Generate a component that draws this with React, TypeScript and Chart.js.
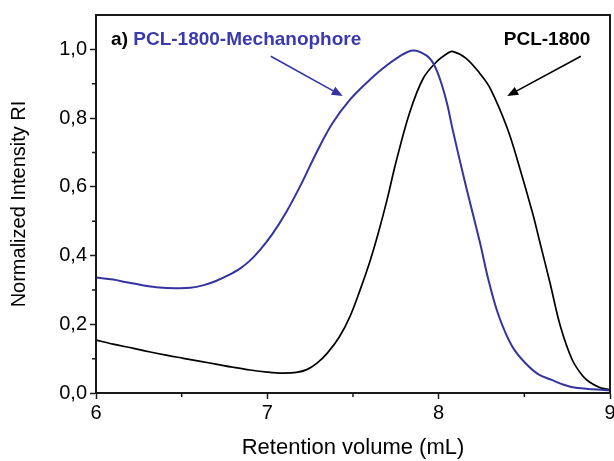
import React, { useEffect, useRef } from "react";
import { Chart, registerables } from "chart.js";

Chart.register(...registerables);

// ---- data ----
const mechX = [6.0, 6.1, 6.18, 6.28, 6.37, 6.46, 6.55, 6.63, 6.7, 6.77, 6.84, 6.9, 6.96, 7.03, 7.11, 7.2, 7.29, 7.38, 7.48, 7.58, 7.67, 7.77, 7.85, 7.93, 7.97, 8.01, 8.05, 8.08, 8.16, 8.24, 8.29, 8.34, 8.39, 8.44, 8.51, 8.58, 8.66, 8.73, 8.8, 8.9, 9.0];
const mechY = [0.336, 0.33, 0.322, 0.313, 0.307, 0.305, 0.306, 0.314, 0.326, 0.342, 0.362, 0.386, 0.418, 0.463, 0.526, 0.61, 0.703, 0.785, 0.852, 0.903, 0.943, 0.979, 0.997, 0.982, 0.958, 0.91, 0.84, 0.77, 0.6, 0.44, 0.33, 0.24, 0.175, 0.127, 0.085, 0.055, 0.038, 0.024, 0.015, 0.011, 0.008];

const pclX = [6.0, 6.1, 6.22, 6.31, 6.41, 6.51, 6.61, 6.7, 6.8, 6.9, 7.0, 7.09, 7.17, 7.23, 7.29, 7.35, 7.42, 7.48, 7.54, 7.6, 7.65, 7.7, 7.75, 7.83, 7.91, 7.99, 8.05, 8.08, 8.16, 8.24, 8.3, 8.4, 8.47, 8.55, 8.59, 8.65, 8.71, 8.78, 8.84, 8.88, 8.94, 9.0];
const pclY = [0.154, 0.142, 0.13, 0.12, 0.11, 0.101, 0.092, 0.084, 0.075, 0.067, 0.061, 0.058, 0.06, 0.068, 0.087, 0.116, 0.163, 0.22, 0.298, 0.385, 0.47, 0.565, 0.67, 0.815, 0.916, 0.965, 0.988, 0.994, 0.974, 0.93, 0.887, 0.771, 0.66, 0.52, 0.44, 0.32, 0.195, 0.096, 0.05, 0.032, 0.016, 0.009];

const xTicks = [6, 7, 8, 9];
const xMinorTicks = [6.5, 7.5, 8.5];
const yTicks = [0, 0.2, 0.4, 0.6, 0.8, 1.0];
const yMinorTicks = [0.1, 0.3, 0.5, 0.7, 0.9];

const xTitle = "Retention volume (mL)";
const yTitle = "Normalized Intensity RI";
const panelLabel = "a) ";
const mechLabel = "PCL-1800-Mechanophore";
const pclLabel = "PCL-1800";

// annotation anchors in data units
const panelLabelPos = [6.088, 1.014];
const pclLabelPos = [8.38, 1.014];
const mechArrow = [7.02, 0.98, 7.44, 0.864];
const pclArrow = [8.83, 0.98, 8.4, 0.864];

const BLUE = "#3434a0";
const BLUE_TEXT = "#3a3aae";
const AXIS = "#1a1a1a";
const FONT = '"Liberation Sans", Arial, sans-serif';

function drawArrow(ctx: CanvasRenderingContext2D, x1: number, y1: number, x2: number, y2: number, color: string) {
  const ang = Math.atan2(y2 - y1, x2 - x1);
  const len = 11;
  const hw = 4.5;
  ctx.strokeStyle = color;
  ctx.fillStyle = color;
  ctx.lineWidth = 1.6;
  ctx.beginPath();
  ctx.moveTo(x1, y1);
  ctx.lineTo(x2 - Math.cos(ang) * len * 0.8, y2 - Math.sin(ang) * len * 0.8);
  ctx.stroke();
  ctx.beginPath();
  ctx.moveTo(x2, y2);
  ctx.lineTo(x2 - Math.cos(ang) * len - Math.sin(ang) * hw, y2 - Math.sin(ang) * len + Math.cos(ang) * hw);
  ctx.lineTo(x2 - Math.cos(ang) * len + Math.sin(ang) * hw, y2 - Math.sin(ang) * len - Math.cos(ang) * hw);
  ctx.closePath();
  ctx.fill();
}

const decorPlugin = {
  id: "decor",
  afterDraw(chart: any) {
    const { ctx, chartArea } = chart;
    const x = chart.scales.x;
    const y = chart.scales.y;
    ctx.save();
    // frame
    ctx.strokeStyle = AXIS;
    ctx.lineWidth = 2;
    ctx.strokeRect(chartArea.left, chartArea.top, chartArea.right - chartArea.left, chartArea.bottom - chartArea.top);
    // minor ticks
    ctx.lineWidth = 1.5;
    ctx.beginPath();
    for (const v of xMinorTicks) {
      const px = x.getPixelForValue(v);
      ctx.moveTo(px, chartArea.bottom);
      ctx.lineTo(px, chartArea.bottom + 4);
    }
    for (const v of yMinorTicks) {
      const py = y.getPixelForValue(v);
      ctx.moveTo(chartArea.left, py);
      ctx.lineTo(chartArea.left - 4, py);
    }
    ctx.stroke();
    // labels
    ctx.font = "bold 19px " + FONT;
    ctx.textBaseline = "alphabetic";
    ctx.textAlign = "left";
    const lx = x.getPixelForValue(panelLabelPos[0]);
    const ly = y.getPixelForValue(panelLabelPos[1]);
    ctx.fillStyle = "#000";
    ctx.fillText(panelLabel, lx, ly);
    const w = ctx.measureText(panelLabel).width;
    ctx.fillStyle = BLUE_TEXT;
    ctx.fillText(mechLabel, lx + w, ly);
    ctx.fillStyle = "#000";
    ctx.fillText(pclLabel, x.getPixelForValue(pclLabelPos[0]), y.getPixelForValue(pclLabelPos[1]));
    // arrows
    drawArrow(ctx, x.getPixelForValue(mechArrow[0]), y.getPixelForValue(mechArrow[1]), x.getPixelForValue(mechArrow[2]), y.getPixelForValue(mechArrow[3]), BLUE);
    drawArrow(ctx, x.getPixelForValue(pclArrow[0]), y.getPixelForValue(pclArrow[1]), x.getPixelForValue(pclArrow[2]), y.getPixelForValue(pclArrow[3]), "#000");
    ctx.restore();
  },
};

const fmt = (v: number) => v.toFixed(1).replace(".", ",");

export default function App() {
  const ref = useRef<HTMLCanvasElement | null>(null);
  useEffect(() => {
    if (!ref.current) return;
    const chart = new Chart(ref.current, {
      type: "line",
      data: {
        datasets: [
          {
            label: mechLabel,
            data: mechX.map((v, i) => ({ x: v, y: mechY[i] })),
            borderColor: BLUE,
            borderWidth: 2,
            pointRadius: 0,
            tension: 0.35,
          },
          {
            label: pclLabel,
            data: pclX.map((v, i) => ({ x: v, y: pclY[i] })),
            borderColor: "#000",
            borderWidth: 1.7,
            pointRadius: 0,
            tension: 0.35,
          },
        ],
      },
      options: {
        responsive: false,
        animation: false,
        layout: { padding: { top: 15, right: 4, bottom: 0, left: 0 } },
        plugins: { legend: { display: false }, tooltip: { enabled: false } },
        scales: {
          x: {
            type: "linear",
            min: 6,
            max: 9,
            afterBuildTicks: (s: any) => {
              s.ticks = xTicks.map((v) => ({ value: v }));
            },
            afterFit: (s: any) => {
              s.height = 68;
              s.paddingLeft = 0;
              s.paddingRight = 0;
            },
            grid: { display: true, drawOnChartArea: false, drawTicks: true, tickLength: 6, tickWidth: 1.5, color: AXIS },
            border: { display: true, color: AXIS, width: 2 },
            ticks: {
              color: "#000",
              padding: 2,
              maxRotation: 0,
              font: { family: FONT, size: 20 },
              callback: (v: any) => String(v),
            },
            title: {
              display: true,
              text: xTitle,
              color: "#000",
              font: { family: FONT, size: 22 },
              padding: { top: 0, bottom: 0 },
            },
          },
          y: {
            type: "linear",
            min: 0,
            max: 1.1,
            afterBuildTicks: (s: any) => {
              s.ticks = yTicks.map((v) => ({ value: v }));
            },
            afterFit: (s: any) => {
              s.width = 96;
              s.paddingTop = 0;
              s.paddingBottom = 0;
            },
            grid: { display: true, drawOnChartArea: false, drawTicks: true, tickLength: 6, tickWidth: 1.5, color: AXIS },
            border: { display: true, color: AXIS, width: 2 },
            ticks: {
              color: "#000",
              padding: 3,
              font: { family: FONT, size: 20 },
              callback: (v: any) => fmt(Number(v)),
            },
            title: {
              display: true,
              text: yTitle,
              color: "#000",
              font: { family: FONT, size: 20 },
              padding: { top: 7, bottom: 0 },
            },
          },
        },
      },
      plugins: [decorPlugin],
    });
    return () => chart.destroy();
  }, []);
  return (
    <div style={{ position: "absolute", left: 0, top: 0, width: 614, height: 461, background: "#fff" }}>
      <canvas ref={ref} width={614} height={461} style={{ display: "block" }} />
    </div>
  );
}
